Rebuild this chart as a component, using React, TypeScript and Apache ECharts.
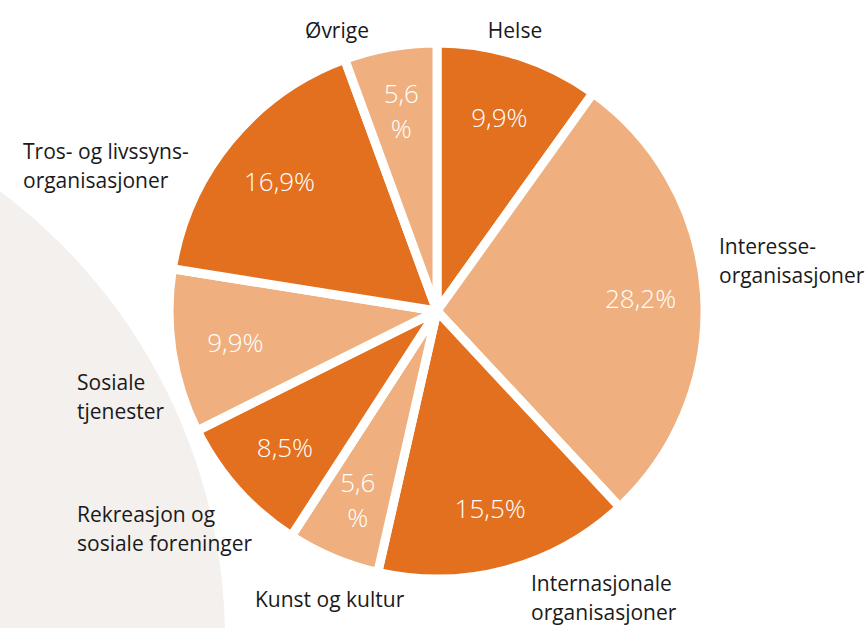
import React, { useEffect, useRef } from "react";
import * as echarts from "echarts";

const categories = [
  "Helse",
  "Interesse-\norganisasjoner",
  "Internasjonale\norganisasjoner",
  "Kunst og kultur",
  "Rekreasjon og\nsosiale foreninger",
  "Sosiale\ntjenester",
  "Tros- og livssyns-\norganisasjoner",
  "Øvrige",
];
const values = [9.9, 28.2, 15.5, 5.6, 8.5, 9.9, 16.9, 5.6];

const DARK = "#E2701F";
const LIGHT = "#EFAF7E";
const sliceColors = [DARK, LIGHT, DARK, LIGHT, DARK, LIGHT, DARK, LIGHT];

// label placement (x, y of block; align)
const outerLabelPos: [number, number, string][] = [
  [515, 30, "center"],
  [719, 260, "left"],
  [531, 597, "left"],
  [255, 599, "left"],
  [77, 528, "left"],
  [77, 396, "left"],
  [23, 165, "left"],
  [337, 30, "center"],
];

const fmt = (v: number) => {
  const s = v.toFixed(1).replace(".", ",");
  return v < 6 ? `${s}\n%` : `${s}%`;
};

export default function App() {
  const ref = useRef<HTMLDivElement>(null);
  useEffect(() => {
    if (!ref.current) return;
    const chart = echarts.init(ref.current, null, { renderer: "svg" });
    const data = categories.map((name, i) => ({
      name,
      value: values[i],
      itemStyle: { color: sliceColors[i] },
    }));
    const CX = 437;
    const CY = 311;
    chart.setOption({
      animation: false,
      backgroundColor: "#ffffff",
      graphic: [
        {
          type: "circle",
          z: -10,
          silent: true,
          shape: { cx: -335, cy: 640, r: 560 },
          style: { fill: "#F3F0ED" },
        },
      ],
      series: [
        {
          type: "pie",
          center: [CX, CY],
          radius: [0, 268],
          startAngle: 90,
          clockwise: true,
          silent: true,
          itemStyle: { borderColor: "#ffffff", borderWidth: 9 },
          label: {
            show: true,
            position: "outside",
            formatter: (p: any) => p.name,
            color: "#1a1a1a",
            fontFamily: "Open Sans",
            fontSize: 21,
            lineHeight: 29,
            overflow: "none",
            width: 300,
          },
          labelLine: { show: false },
          labelLayout: (p: any) => {
            const pos = outerLabelPos[p.dataIndex];
            return {
              x: pos[0],
              y: pos[1],
              align: pos[2],
              verticalAlign: "middle",
              hideOverlap: false,
              moveOverlap: false,
            };
          },
          data,
        },
        {
          type: "pie",
          center: [CX, CY],
          radius: [140, 262],
          startAngle: 90,
          clockwise: true,
          silent: true,
          itemStyle: { color: "transparent", borderWidth: 0 },
          label: {
            show: true,
            position: "inside",
            formatter: (p: any) => fmt(p.value),
            color: "#ffffff",
            fontFamily: "Open Sans",
            fontWeight: 300,
            fontSize: 26,
            lineHeight: 35,
          },
          labelLine: { show: false },
          data: categories.map((name, i) => ({ name, value: values[i] })),
        },
      ],
    });
    return () => chart.dispose();
  }, []);
  return (
    <div
      ref={ref}
      style={{ position: "fixed", left: 0, top: 0, width: 868, height: 628 }}
    />
  );
}
